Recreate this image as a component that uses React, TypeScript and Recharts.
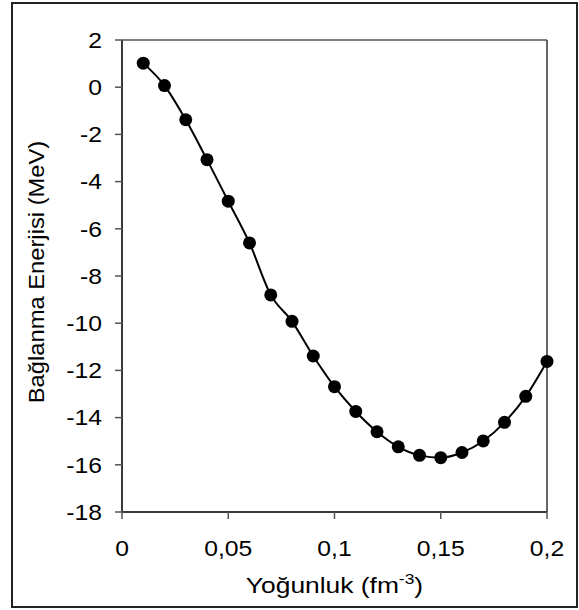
import React from 'react';
import { LineChart, Line, XAxis, YAxis, ReferenceLine, Label } from 'recharts';

const density = [0.01, 0.02, 0.03, 0.04, 0.05, 0.06, 0.07, 0.08, 0.09, 0.1, 0.11, 0.12, 0.13, 0.14, 0.15, 0.16, 0.17, 0.18, 0.19, 0.2];
const energy = [1.02, 0.07, -1.38, -3.07, -4.83, -6.6, -8.8, -9.92, -11.39, -12.69, -13.74, -14.6, -15.24, -15.6, -15.7, -15.48, -14.99, -14.2, -13.1, -11.62];
const xTicks = [0, 0.05, 0.1, 0.15, 0.2];
const yTicks = [-18, -16, -14, -12, -10, -8, -6, -4, -2, 0, 2];

const data = density.map((d, i) => ({ x: d, y: energy[i] }));

const FONT = '"Liberation Sans", Arial, sans-serif';
const fmt = (v: number) => String(v).replace('.', ',');

const YTick = (props: any) => {
  const { x, y, payload } = props;
  return (
    <g transform={`translate(${x},${y}) scale(1.15,1)`}>
      <text x={0} y={0} dy="0.36em" textAnchor="end" fontSize={21.5} fontFamily={FONT} fill="#000">
        {fmt(payload.value)}
      </text>
    </g>
  );
};

const XTick = (props: any) => {
  const { x, y, payload } = props;
  return (
    <g transform={`translate(${x},${y + 35}) scale(1.15,1)`}>
      <text x={0} y={0} textAnchor="middle" fontSize={21.5} fontFamily={FONT} fill="#000">
        {fmt(payload.value)}
      </text>
    </g>
  );
};

const XLabel = (props: any) => {
  const vb = props.viewBox || { x: 122, y: 512, width: 425, height: 98 };
  const cx = vb.x + vb.width / 2;
  const by = vb.y + 81;
  return (
    <g transform={`translate(${cx},${by}) scale(1.2,1)`}>
      <text x={0} y={0} textAnchor="middle" fontSize={22} fontFamily={FONT} fill="#000">
        Yoğunluk (fm
        <tspan fontSize={14.5} dy={-9}>-3</tspan>
        <tspan fontSize={22} dy={9}>)</tspan>
      </text>
    </g>
  );
};

const YLabel = (props: any) => {
  const vb = props.viewBox || { x: 0, y: 40, width: 122, height: 472 };
  const cy = vb.y + vb.height / 2 - 4;
  return (
    <g transform={`translate(${vb.x + 44},${cy}) rotate(-90) scale(1.08,1)`}>
      <text x={0} y={0} textAnchor="middle" fontSize={22} fontFamily={FONT} fill="#000">
        Bağlanma Enerjisi (MeV)
      </text>
    </g>
  );
};

export default function App() {
  return (
    <div style={{ position: 'absolute', left: 0, top: 0, width: 579, height: 610, background: '#fff' }}>
      <div
        style={{
          position: 'absolute',
          left: 11,
          top: 2,
          width: 567,
          height: 606,
          border: '2px solid #222',
          boxSizing: 'border-box',
        }}
      />
      <div style={{ position: 'absolute', left: 0, top: 0 }}>
        <LineChart width={579} height={610} data={data} margin={{ top: 40, right: 32, left: 0, bottom: 0 }}>
          <XAxis
            dataKey="x"
            type="number"
            domain={[0, 0.2]}
            ticks={xTicks}
            height={98}
            tick={<XTick />}
            tickSize={7}
            axisLine={{ stroke: '#3a3a3a', strokeWidth: 2 }}
            tickLine={{ stroke: '#555', strokeWidth: 1.5 }}
            interval={0}
          >
            <Label content={<XLabel />} />
          </XAxis>
          <YAxis
            type="number"
            domain={[-18, 2]}
            ticks={yTicks}
            width={122}
            tick={<YTick />}
            tickSize={7}
            tickMargin={13}
            axisLine={{ stroke: '#3a3a3a', strokeWidth: 2 }}
            tickLine={{ stroke: '#555', strokeWidth: 1.5 }}
            interval={0}
          >
            <Label content={<YLabel />} />
          </YAxis>
          <ReferenceLine y={2} stroke="#808080" strokeWidth={2} />
          <ReferenceLine x={0.2} stroke="#333" strokeWidth={1.5} />
          <Line
            type="monotone"
            dataKey="y"
            stroke="#000"
            strokeWidth={2}
            dot={{ r: 6.5, fill: '#000', stroke: '#000', strokeWidth: 0 }}
            isAnimationActive={false}
          />
        </LineChart>
      </div>
    </div>
  );
}
